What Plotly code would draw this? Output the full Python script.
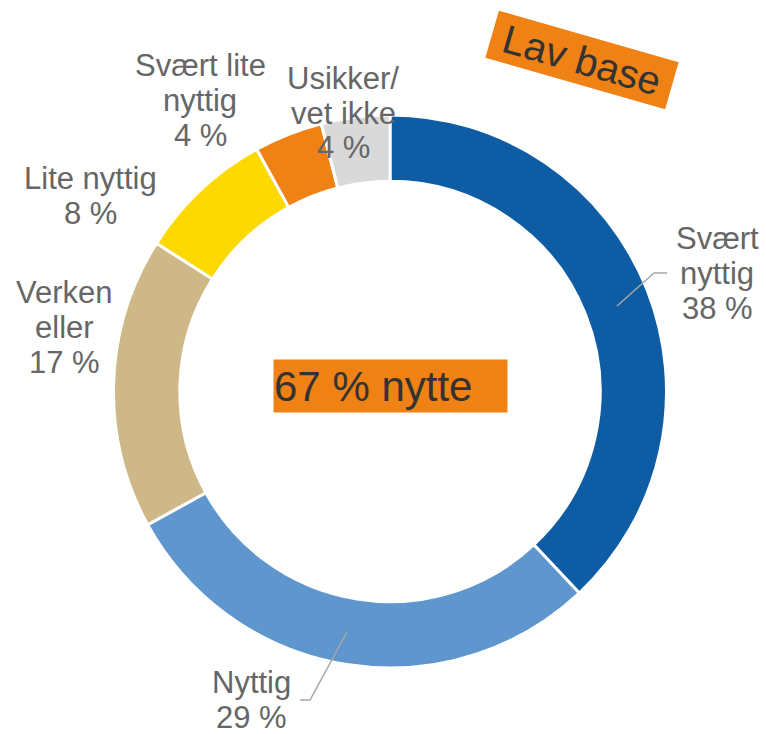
import plotly.graph_objects as go

categories = ["Svært nyttig", "Nyttig", "Verken eller", "Lite nyttig", "Svært lite nyttig", "Usikker/vet ikke"]
values = [38, 29, 17, 8, 4, 4]
label_lines = [["Svært", "nyttig", "38 %"], ["Nyttig", "29 %"], ["Verken", "eller", "17 %"],
               ["Lite nyttig", "8 %"], ["Svært lite", "nyttig", "4 %"], ["Usikker/", "vet ikke", "4 %"]]
colors = ["#0E5DA4", "#5F96CE", "#CFB887", "#FDD900", "#EF8115", "#D9D9D9"]
center_text = "67 % nytte"
badge_text = "Lav base"

W, H = 766, 734
def px(x):
    return x / W
def py(y):
    return 1 - y / H

cx, cy, R = 390, 391.5, 276.5

fig = go.Figure(go.Pie(
    labels=categories, values=values, sort=False, direction="clockwise", rotation=0,
    hole=0.76, textinfo="none", hoverinfo="label+percent",
    marker=dict(colors=colors, line=dict(color="white", width=3)),
    domain=dict(x=[px(cx - R), px(cx + R)], y=[py(cy + R), py(cy - R)]),
    showlegend=False,
))

label_pos = [(717, 273), (251, 700), (64, 327), (90, 195.5), (200, 100), (343, 113)]
line_gap = 35
font_lbl = dict(family="Liberation Sans, Arial, sans-serif", size=31, color="#666666")
annotations = []
for lines, (x, y) in zip(label_lines, label_pos):
    n = len(lines)
    for i, t in enumerate(lines):
        yy = y + (i - (n - 1) / 2) * line_gap
        annotations.append(dict(x=px(x), y=py(yy), xref="paper", yref="paper", text=t,
                                showarrow=False, font=font_lbl, xanchor="center", yanchor="middle",
                                align="center"))

annotations.append(dict(x=px(273), y=py(359), xref="paper", yref="paper", text=center_text,
                        showarrow=False, xanchor="left", yanchor="top", align="left",
                        width=233, height=52, bgcolor="#EF8115", borderpad=0,
                        font=dict(family="Liberation Sans, Arial, sans-serif", size=42, color="#333333")))
annotations.append(dict(x=px(582), y=py(60), xref="paper", yref="paper", text=badge_text,
                        showarrow=False, xanchor="center", yanchor="middle", align="center",
                        width=186, height=48, bgcolor="#EF8115", borderpad=0, textangle=16,
                        font=dict(family="Liberation Sans, Arial, sans-serif", size=40, color="#333333")))

line_style = dict(color="#A6A6A6", width=1.5)
shapes = [
    dict(type="path", xref="paper", yref="paper",
         path=f"M {px(617)} {py(306)} L {px(654)} {py(273)} L {px(667)} {py(273)}", line=line_style),
    dict(type="path", xref="paper", yref="paper",
         path=f"M {px(347)} {py(632)} L {px(310)} {py(700)} L {px(300)} {py(700)}", line=line_style),
]

fig.update_layout(width=W, height=H, margin=dict(l=0, r=0, t=0, b=0),
                  paper_bgcolor="white", plot_bgcolor="white",
                  annotations=annotations, shapes=shapes)
fig.write_html("out.html", config={"displayModeBar": False},
               post_script="document.body.style.margin='0';document.body.style.overflow='hidden';")
